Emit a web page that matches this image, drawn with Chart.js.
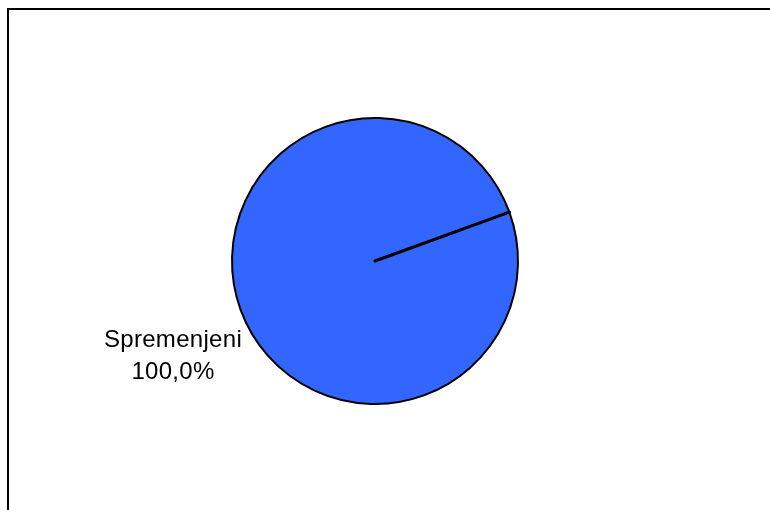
<!DOCTYPE html>
<html>
  <head>
    <title>Pie - Spremenjeni</title>
    <style>
      body { margin: 0; background: #fff; }
      .chart-container {
        position: relative;
        width: 770px;
        height: 510px;
      }
      .frame {
        position: absolute;
        left: 7px;
        top: 8px;
        right: 0;
        bottom: 0;
        border-left: 2px solid #000;
        border-top: 2px solid #000;
      }
      #mycanvas { position: absolute; left: 0; top: 0; }
    </style>
  </head>
  <body>
    <div class="chart-container">
      <div class="frame"></div>
      <canvas id="mycanvas" width="770" height="510"></canvas>
    </div>

    <script src="https://cdn.jsdelivr.net/npm/chart.js@4/dist/chart.umd.min.js"></script>
    <script>
      var categories = ["Spremenjeni"];
      var values = [100.0];
      var percentLabels = ["100,0%"];

      // writes the category and its share to the lower left of the pie,
      // and makes the radial seam of the slice a bit heavier
      var sliceLabel = {
        id: 'sliceLabel',
        afterDatasetsDraw: function(chart) {
          var arc = chart.getDatasetMeta(0).data[0];
          var ctx = chart.ctx;
          ctx.save();
          ctx.strokeStyle = '#000';
          ctx.lineWidth = 3;
          ctx.lineCap = 'round';
          ctx.beginPath();
          ctx.moveTo(arc.x, arc.y);
          ctx.lineTo(arc.x + Math.cos(arc.startAngle) * arc.outerRadius,
                     arc.y + Math.sin(arc.startAngle) * arc.outerRadius);
          ctx.stroke();

          ctx.fillStyle = '#000';
          ctx.font = '24px "Liberation Sans", Arial, sans-serif';
          ctx.letterSpacing = '0.3px';
          ctx.textAlign = 'center';
          ctx.textBaseline = 'alphabetic';
          var x = arc.x - 202;
          var y = arc.y + 86;
          ctx.fillText(categories[0], x, y);
          ctx.fillText(percentLabels[0], x, y + 32);
          ctx.restore();
        }
      };

      var chartdata = {
        labels: categories,
        datasets: [
          {
            data: values,
            backgroundColor: "#3366FF",
            borderColor: "#000",
            borderWidth: 2
          }
        ]
      };

      var PieGraph = new Chart(document.getElementById('mycanvas'), {
        type: 'pie',
        data: chartdata,
        options: {
          responsive: false,
          animation: false,
          rotation: 70,
          layout: { padding: { top: 117, bottom: 105, left: 2, right: 22 } },
          plugins: {
            legend: { display: false },
            tooltip: { enabled: false }
          }
        },
        plugins: [sliceLabel]
      });
    </script>
  </body>
</html>
